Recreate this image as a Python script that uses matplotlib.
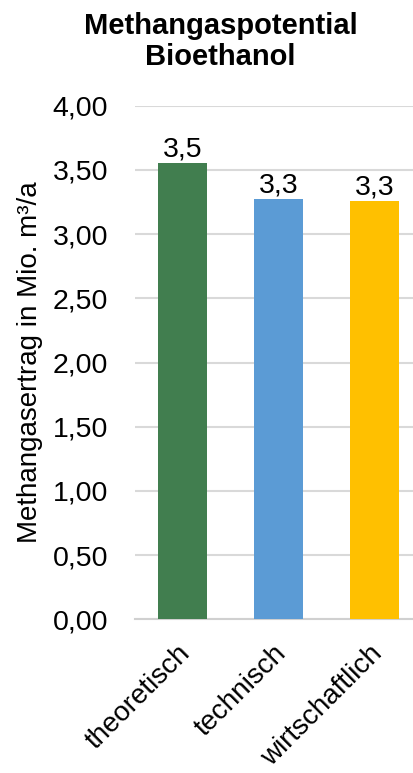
import matplotlib
matplotlib.use("Agg")
import matplotlib.pyplot as plt
import matplotlib.transforms as mtransforms
from matplotlib.ticker import FuncFormatter

plt.rcParams['font.family'] = ['Liberation Sans', 'DejaVu Sans']

# Daten
kategorien = ['theoretisch', 'technisch', 'wirtschaftlich']
ertrag = [3.55, 3.27, 3.26]
farben = ['#417E4F', '#5B9BD5', '#FFC000']
y_ticks = [0.0, 0.5, 1.0, 1.5, 2.0, 2.5, 3.0, 3.5, 4.0]

fig = plt.figure(figsize=(4.13, 7.73), dpi=100)
ax = fig.add_axes([0.3257, 0.1987, 0.6743, 0.6646])

x = range(len(kategorien))
bars = ax.bar(x, ertrag, width=0.51, color=farben, zorder=3)

# Datenbeschriftung mit einer Nachkommastelle
for b, v in zip(bars, ertrag):
    ax.annotate(f"{v:.1f}".replace('.', ','),
                (b.get_x() + b.get_width() / 2, v),
                xytext=(0, 0.5), textcoords='offset points',
                ha='center', va='bottom', fontsize=20.5, color='#000000')

ax.set_ylim(0, 4.0)
ax.set_xlim(-0.5, 2.401)
ax.set_yticks(y_ticks)
ax.yaxis.set_major_formatter(FuncFormatter(lambda v, p: f"{v:.2f}".replace('.', ',')))
ax.grid(axis='y', color='#D9D9D9', linewidth=1.5, zorder=0)
ax.tick_params(axis='both', length=0, labelsize=20.5, colors='#000000')
ax.tick_params(axis='y', pad=19)
ax.tick_params(axis='x', pad=0)

for s in ['top', 'right', 'left']:
    ax.spines[s].set_visible(False)
ax.spines['bottom'].set_color('#D0D0D0')
ax.spines['bottom'].set_linewidth(1.5)

ax.set_xticks(list(x))
ax.set_xticklabels(kategorien, rotation=45, ha='right', va='top',
                   rotation_mode='anchor', fontsize=20)
# Beschriftungen etwas nach unten verschieben
versatz = mtransforms.ScaledTranslation(-0.05, -0.21, fig.dpi_scale_trans)
for lbl in ax.get_xticklabels():
    lbl.set_transform(lbl.get_transform() + versatz)

ax.set_ylabel('Methangasertrag in Mio. m³/a', fontsize=20, va='center')
ax.yaxis.set_label_coords(-0.375, 0.5)

fig.text(0.534, 0.984, 'Methangaspotential\nBioethanol', ha='center', va='top',
         fontsize=21, fontweight='bold', linespacing=1.1)

fig.savefig('out.png', dpi=100)
